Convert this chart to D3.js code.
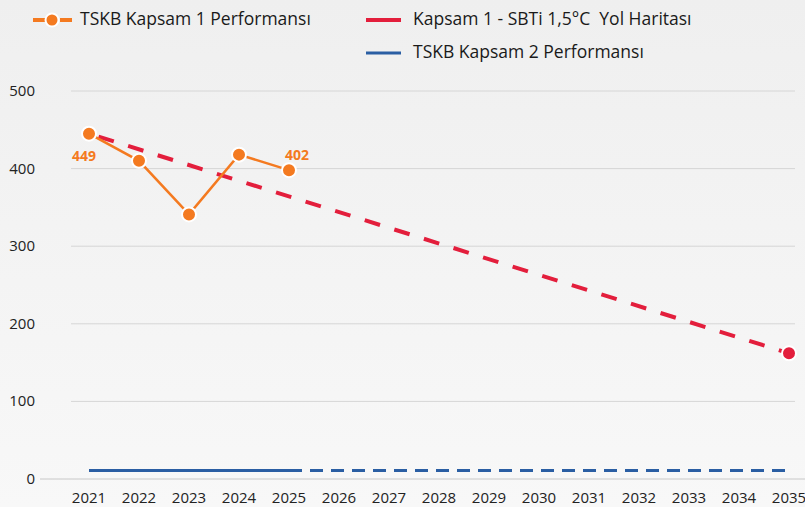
<!DOCTYPE html>
<html>
<head>
  <meta charset="utf-8">
  <script src="https://d3js.org/d3.v7.min.js"></script>
  <style>
    body { margin:0; }
    text { font-family: "Open Sans", sans-serif; white-space: pre; }
  </style>
</head>
<body>
  <div id="container"></div>
  <script>
    var w = 805, h = 507;

    // data
    var years = d3.range(2021, 2036);
    var perfYears = [2021, 2022, 2023, 2024, 2025];
    var scope1 = [445, 410, 341, 418, 398];
    var scope1Labels = ["449", "", "", "", "402"];
    var sbtiYears = [2021, 2035];
    var sbti = [445, 162];
    var scope2Years = [2021, 2025];
    var scope2 = [11, 11];
    var scope2FutureYears = [2025, 2035];
    var scope2Future = [11, 11];
    var yTicks = [0, 100, 200, 300, 400, 500];

    var orange = "#f47a20", red = "#e31e3c", blue = "#2a5ea3";

    var svg = d3.select("#container").append("svg")
      .attr("width", w).attr("height", h);

    var grad = svg.append("defs").append("linearGradient")
      .attr("id", "bg").attr("x1", 0).attr("y1", 0).attr("x2", 0).attr("y2", 1);
    grad.append("stop").attr("offset", "0%").attr("stop-color", "#efefef");
    grad.append("stop").attr("offset", "100%").attr("stop-color", "#f8f8f8");
    svg.append("rect").attr("width", w).attr("height", h).attr("fill", "url(#bg)");

    var x = d3.scaleLinear().domain([2021, 2035]).range([89, 789]);
    var y = d3.scaleLinear().domain([0, 500]).range([479, 91]);

    // grid
    svg.selectAll(".grid").data(yTicks).enter().append("line")
      .attr("x1", function(d) { return d === 0 ? 40 : 71; })
      .attr("x2", function(d) { return d === 0 ? 805 : 795; })
      .attr("y1", function(d) { return y(d); })
      .attr("y2", function(d) { return y(d); })
      .attr("stroke", function(d) { return d === 0 ? "#c8c8c8" : "#d6d6d6"; })
      .attr("stroke-width", 1);

    svg.selectAll(".ylab").data(yTicks).enter().append("text")
      .attr("x", 35).attr("y", function(d) { return y(d) + 5; })
      .attr("text-anchor", "end").attr("font-size", 15).attr("fill", "#222")
      .text(function(d) { return d; });

    svg.selectAll(".xlab").data(years).enter().append("text")
      .attr("x", function(d) { return x(d); }).attr("y", 503)
      .attr("text-anchor", "middle").attr("font-size", 15).attr("fill", "#222")
      .text(function(d) { return d; });

    var line = d3.line()
      .x(function(d) { return x(d[0]); })
      .y(function(d) { return y(d[1]); });

    // scope 2
    svg.append("path").datum(d3.zip(scope2Years, scope2))
      .attr("d", line).attr("fill", "none").attr("stroke", blue).attr("stroke-width", 3);
    svg.append("path").datum(d3.zip(scope2FutureYears, scope2Future))
      .attr("d", line).attr("fill", "none").attr("stroke", blue).attr("stroke-width", 3)
      .attr("stroke-dasharray", "13,8");

    // SBTi pathway
    svg.append("path").datum(d3.zip(sbtiYears, sbti))
      .attr("d", line).attr("fill", "none").attr("stroke", red).attr("stroke-width", 4)
      .attr("stroke-dasharray", "16,15").attr("stroke-dashoffset", -10);
    svg.append("circle")
      .attr("cx", x(sbtiYears[1])).attr("cy", y(sbti[1])).attr("r", 7)
      .attr("fill", red).attr("stroke", "#fff").attr("stroke-width", 2);

    // scope 1
    var perf = d3.zip(perfYears, scope1);
    svg.append("path").datum(perf)
      .attr("d", line).attr("fill", "none").attr("stroke", orange).attr("stroke-width", 2.5);
    svg.selectAll(".pt").data(perf).enter().append("circle")
      .attr("cx", function(d) { return x(d[0]); })
      .attr("cy", function(d) { return y(d[1]); })
      .attr("r", 7).attr("fill", orange).attr("stroke", "#fff").attr("stroke-width", 2);

    svg.append("text").attr("x", x(2021) - 5).attr("y", 161)
      .attr("text-anchor", "middle").attr("font-size", 14).attr("font-weight", "bold")
      .attr("fill", orange).text(scope1Labels[0]);
    svg.append("text").attr("x", x(2025) + 8).attr("y", 160)
      .attr("text-anchor", "middle").attr("font-size", 14).attr("font-weight", "bold")
      .attr("fill", orange).text(scope1Labels[4]);

    // legend
    var lg = svg.append("g").attr("font-size", 17.5).attr("fill", "#1a1a1a");
    lg.append("line").attr("x1", 33).attr("x2", 72).attr("y1", 20).attr("y2", 20)
      .attr("stroke", orange).attr("stroke-width", 4).attr("stroke-dasharray", "12,15");
    lg.append("circle").attr("cx", 52).attr("cy", 20).attr("r", 6.5)
      .attr("fill", orange).attr("stroke", "#fff").attr("stroke-width", 2);
    lg.append("text").attr("x", 80).attr("y", 25).text("TSKB Kapsam 1 Performansı");

    lg.append("line").attr("x1", 366).attr("x2", 401).attr("y1", 20).attr("y2", 20)
      .attr("stroke", red).attr("stroke-width", 4);
    lg.append("text").attr("x", 413).attr("y", 25).text("Kapsam 1 - SBTi 1,5°C  Yol Haritası");

    lg.append("line").attr("x1", 366).attr("x2", 401).attr("y1", 53).attr("y2", 53)
      .attr("stroke", blue).attr("stroke-width", 3);
    lg.append("text").attr("x", 413).attr("y", 58).text("TSKB Kapsam 2 Performansı");
  </script>
</body>
</html>
